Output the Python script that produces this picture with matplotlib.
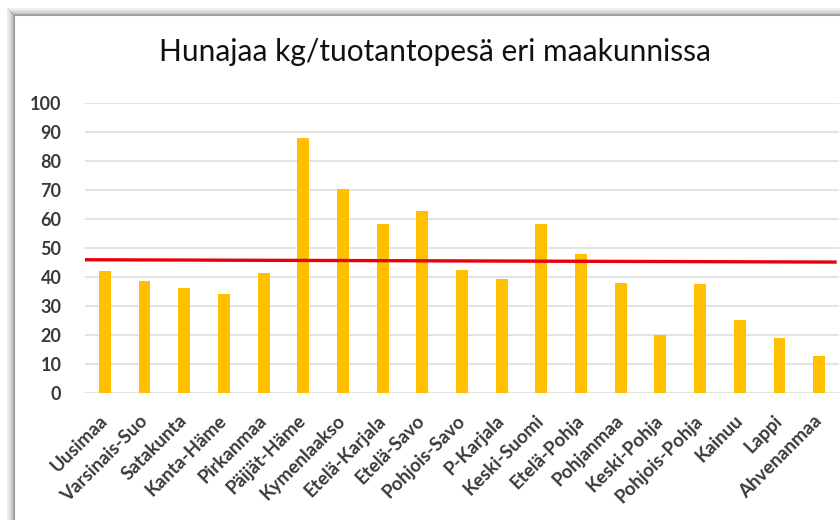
import matplotlib
matplotlib.use("Agg")
import matplotlib.pyplot as plt
from matplotlib.lines import Line2D
import numpy as np

# Data
regions = ['Uusimaa', 'Varsinais-Suo', 'Satakunta', 'Kanta-Häme', 'Pirkanmaa',
           'Päijät-Häme', 'Kymenlaakso', 'Etelä-Karjala', 'Etelä-Savo',
           'Pohjois-Savo', 'P-Karjala', 'Keski-Suomi', 'Etelä-Pohja',
           'Pohjanmaa', 'Keski-Pohja', 'Pohjois-Pohja', 'Kainuu', 'Lappi',
           'Ahvenanmaa']
honey_kg = [42, 38.6, 36, 34, 41.2, 88, 70.4, 58.3, 62.8, 42.2, 39.2, 58.1,
            47.8, 37.8, 20, 37.6, 25.1, 18.9, 12.8]
# red reference line (start, end)
avg_line = [45.9, 45.1]
yticks = list(range(0, 101, 10))

plt.rcParams['font.family'] = ['Lato', 'DejaVu Sans']

fig = plt.figure(figsize=(8.4, 5.2), dpi=100)
ax = fig.add_axes([85 / 840, 1 - 393 / 520, 754 / 840, (393 - 102.7) / 520])

x = np.arange(len(regions))
ax.bar(x, honey_kg, width=0.3, color='#FFC000', zorder=2)
ax.plot([-0.5, len(regions) - 0.6], avg_line, color='#E8000B', lw=2.4, zorder=3)

ax.set_xlim(-0.5, len(regions) - 0.5)
ax.set_ylim(0, 100)
ax.set_yticks(yticks)
ax.set_xticks(x)
ax.set_xticklabels(regions, rotation=45, ha='right', va='center',
                   rotation_mode='anchor', fontsize=13.5, fontweight='bold',
                   color='#3a3a3a')
ax.tick_params(axis='x', length=0, pad=18)
ax.tick_params(axis='y', length=0, pad=17, labelsize=13, labelcolor='#3a3a3a')
for lbl in ax.get_yticklabels():
    lbl.set_fontweight('bold')

ax.yaxis.grid(True, color='#e3e3e3', lw=1.4, zorder=0)
for s in ax.spines.values():
    s.set_visible(False)

fig.text(435 / 840, 1 - 52 / 520, 'Hunajaa kg/tuotantopesä eri maakunnissa',
         ha='center', va='center', fontsize=21.5, color='#111111')

# chart frame (screenshot border with a soft shadow)
W, H = 840, 520
for off, a in [(6, 0.15), (4, 0.3), (2, 0.5)]:
    fig.add_artist(Line2D([(14 - off) / W, 1], [1 - (15 - off) / H] * 2,
                          transform=fig.transFigure, color='#9a9a9a', lw=1.5, alpha=a))
    fig.add_artist(Line2D([(14 - off) / W] * 2, [0, 1 - (15 - off) / H],
                          transform=fig.transFigure, color='#9a9a9a', lw=1.5, alpha=a))
fig.add_artist(Line2D([14 / W, 1], [1 - 15 / H] * 2, transform=fig.transFigure,
                      color='#a0a0a0', lw=1.5))
fig.add_artist(Line2D([14 / W] * 2, [0, 1 - 15 / H], transform=fig.transFigure,
                      color='#a0a0a0', lw=1.5))

fig.savefig('out.png', dpi=100)
